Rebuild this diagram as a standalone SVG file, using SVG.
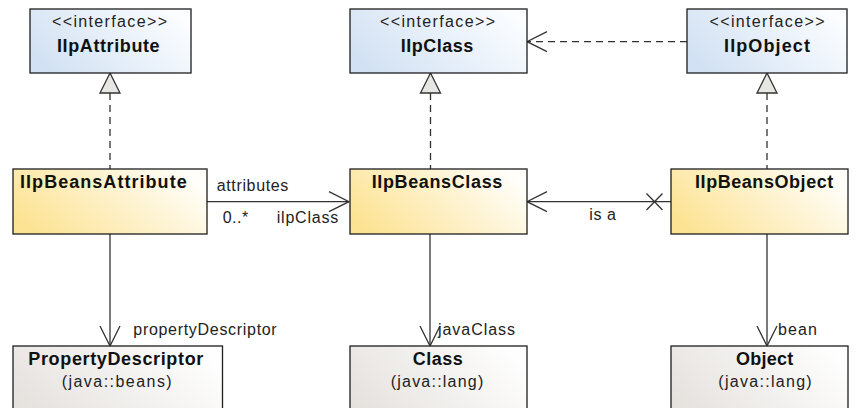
<svg xmlns="http://www.w3.org/2000/svg" width="856" height="408" viewBox="0 0 856 408">
<defs>
<linearGradient id="gI" x1="0" y1="0.7" x2="1" y2="0.3"><stop offset="0" stop-color="#d2e1f3"/><stop offset="1" stop-color="#fbfdff"/></linearGradient>
<linearGradient id="gY" x1="0" y1="0.7" x2="1" y2="0.3"><stop offset="0" stop-color="#fce393"/><stop offset="1" stop-color="#fffefa"/></linearGradient>
<linearGradient id="gG" x1="0" y1="0.7" x2="1" y2="0.3"><stop offset="0" stop-color="#e5e1dd"/><stop offset="1" stop-color="#fefefe"/></linearGradient>
</defs>
<style>
.box{stroke:#1e1e1e;stroke-width:1.3}
.i{fill:url(#gI)}
.y{fill:url(#gY)}
.g{fill:url(#gG)}
text{font-family:"Liberation Sans",Arial,sans-serif;fill:#111}
.t{font-size:18px;font-weight:bold}
.s{font-size:16px;fill:#222}
.l{font-size:16px;fill:#222}
.ln{stroke:#333;stroke-width:1.3;fill:none}
.d{stroke-dasharray:7 5}
.tri{fill:#e8e6e2;stroke:#333;stroke-width:1.3}
</style>
<g id="connectors">
<line class="ln d" x1="110" y1="93" x2="110" y2="169"/>
<polygon class="tri" points="110,73 100,93 120,93"/>
<line class="ln d" x1="430.5" y1="93" x2="430.5" y2="169"/>
<polygon class="tri" points="430.5,73 420.5,93 440.5,93"/>
<line class="ln d" x1="767" y1="93" x2="767" y2="169"/>
<polygon class="tri" points="767,73 757,93 777,93"/>
<line class="ln d" x1="687" y1="41.7" x2="528" y2="41.7"/>
<polyline class="ln" points="547,31.7 527,41.7 547,51.7"/>
<line class="ln" x1="207" y1="201.7" x2="349" y2="201.7"/>
<polyline class="ln" points="329,191.7 349,201.7 329,211.7"/>
<line class="ln" x1="671" y1="201.7" x2="528" y2="201.7"/>
<polyline class="ln" points="547,191.7 527,201.7 547,211.7"/>
<line class="ln" x1="646.5" y1="193.5" x2="662.5" y2="210"/>
<line class="ln" x1="662.5" y1="193.5" x2="646.5" y2="210"/>
<line class="ln" x1="110" y1="234" x2="110" y2="345"/>
<polyline class="ln" points="100,326 110,346 120,326"/>
<line class="ln" x1="430" y1="234" x2="430" y2="345"/>
<polyline class="ln" points="420,326 430,346 440,326"/>
<line class="ln" x1="767" y1="234" x2="767" y2="345"/>
<polyline class="ln" points="757,326 767,346 777,326"/>
<text class="l" x="216.7" y="191" textLength="71.6">attributes</text>
<text class="l" x="222.7" y="223" textLength="25.6">0..*</text>
<text class="l" x="276.7" y="223" textLength="61.6">ilpClass</text>
<text class="l" x="589.3" y="220" textLength="26.7">is a</text>
<text class="l" x="133.3" y="335" textLength="143.4">propertyDescriptor</text>
<text class="l" x="438" y="335" textLength="77">javaClass</text>
<text class="l" x="778" y="335" textLength="39">bean</text>
</g>
<g id="IIpAttribute">
<rect class="box i" x="30" y="9" width="161" height="64"/>
<text class="s" x="52" y="27" textLength="115">&lt;&lt;interface&gt;&gt;</text>
<text class="t" x="57" y="51.7" textLength="102.6">IIpAttribute</text>
</g>
<g id="IIpClass">
<rect class="box i" x="350" y="9" width="177" height="64"/>
<text class="s" x="380" y="27" textLength="115">&lt;&lt;interface&gt;&gt;</text>
<text class="t" x="400.7" y="51.7" textLength="72.6">IIpClass</text>
</g>
<g id="IIpObject">
<rect class="box i" x="687" y="9" width="160" height="64"/>
<text class="s" x="709.5" y="27" textLength="115">&lt;&lt;interface&gt;&gt;</text>
<text class="t" x="724" y="51.7" textLength="86">IIpObject</text>
</g>
<g id="IIpBeansAttribute">
<rect class="box y" x="13" y="169" width="194" height="65"/>
<text class="t" x="20" y="188" textLength="166.7">IIpBeansAttribute</text>
</g>
<g id="IIpBeansClass">
<rect class="box y" x="350" y="169" width="177" height="65"/>
<text class="t" x="371.7" y="188" textLength="130.6">IIpBeansClass</text>
</g>
<g id="IIpBeansObject">
<rect class="box y" x="671" y="169" width="177" height="65"/>
<text class="t" x="695" y="188" textLength="138.3">IIpBeansObject</text>
</g>
<g id="PropertyDescriptor">
<rect class="box g" x="13" y="346" width="209.5" height="80"/>
<text class="t" x="28.3" y="365" textLength="175">PropertyDescriptor</text>
<text class="s" x="61.7" y="387" textLength="110">(java::beans)</text>
</g>
<g id="Class">
<rect class="box g" x="350" y="346" width="177" height="80"/>
<text class="t" x="412.7" y="365" textLength="50">Class</text>
<text class="s" x="390.7" y="387" textLength="92.6">(java::lang)</text>
</g>
<g id="Object">
<rect class="box g" x="671" y="346" width="177" height="80"/>
<text class="t" x="736" y="365" textLength="57.3">Object</text>
<text class="s" x="718.3" y="387" textLength="93.4">(java::lang)</text>
</g>
</svg>
